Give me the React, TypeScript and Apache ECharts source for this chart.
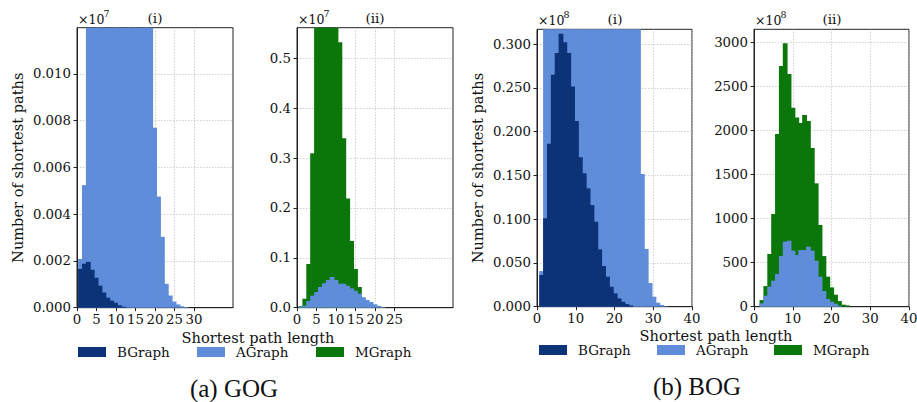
import React, { useEffect, useRef } from "react";
import * as echarts from "echarts";

const SERIF = "DejaVu Serif";
const CAPTION_FONT = "Liberation Serif";

const COLORS: Record<string, string> = {
  BGraph: "#0c3378",
  AGraph: "#5f8dda",
  MGraph: "#0b770b",
};

// ---------- data (bar heights per bin, bins of width 1) ----------
// (a) GOG (i), values in units of 1e7
const GOG_I_BIN_START = 0.4;
const GOG_I_BGRAPH = [0.00166, 0.00188, 0.00196, 0.00162, 0.00128, 0.00094, 0.00065, 0.00043, 0.0003, 0.00021, 0.0001, 0.00004, 0.00001];
const GOG_I_AGRAPH = [
  0.00208, 0.00524, 0.0125, 0.02, 0.03, 0.045, 0.06, 0.075, 0.085, 0.09, 0.088, 0.08, 0.07, 0.058, 0.045, 0.034,
  0.024, 0.016, 0.0125, 0.00769, 0.00475, 0.00303, 0.00102, 0.00052, 0.00026, 0.00014, 0.00006, 0.00003,
];
// (a) GOG (ii), values in units of 1e7
const GOG_II_BIN_START = 0.5;
const GOG_II_MGRAPH = [0.003, 0.018, 0.0876, 0.3095, 0.62, 0.74, 0.8, 0.78, 0.7, 0.6, 0.532, 0.3396, 0.219, 0.1337, 0.0776, 0.0415, 0.018, 0.01, 0.005, 0.002];
const GOG_II_AGRAPH = [0.002, 0.004, 0.0134, 0.024, 0.0315, 0.0415, 0.049, 0.0555, 0.0615, 0.0555, 0.048, 0.048, 0.044, 0.039, 0.034, 0.028, 0.021, 0.0154, 0.0114, 0.0067, 0.0034, 0.0014];
// (b) BOG (i), values in units of 1e8
const BOG_I_BIN_START = 0.69;
const BOG_I_BGRAPH = [0.0362, 0.101, 0.186, 0.2648, 0.2896, 0.3117, 0.302, 0.2896, 0.2514, 0.212, 0.1706, 0.1523, 0.1352, 0.116, 0.097, 0.0655, 0.0465, 0.0343, 0.0228, 0.0152, 0.0095, 0.0057, 0.003, 0.0015];
const BOG_I_AGRAPH = [
  0.0407, 0.36, 0.52, 0.7, 0.88, 1.02, 1.12, 1.18, 1.2, 1.18, 1.12, 1.05, 0.97, 0.9, 0.82, 0.75, 0.68, 0.62, 0.57, 0.52,
  0.48, 0.45, 0.42, 0.39, 0.36, 0.33, 0.1516, 0.066, 0.027, 0.0114, 0.0046, 0.002, 0.0005,
];
// (b) BOG (ii)
const BOG_II_BIN_START = 1.55;
const BOG_II_MGRAPH = [75, 234, 597, 1051, 1958, 2729, 2986, 2638, 2256, 2143, 2083, 2173, 2105, 1799, 1398, 926, 574, 340, 219, 136, 64, 23, 15];
const BOG_II_AGRAPH = [38, 125, 227, 295, 370, 574, 737, 748, 635, 586, 642, 642, 680, 635, 521, 340, 178, 87, 57, 34, 10];

const BIN_WIDTH = 1;

// axis ticks
const X_TICKS_GOG_I = [0, 5, 10, 15, 20, 25, 30];
const X_TICKS_GOG_II = [0, 5, 10, 15, 20, 25];
const X_TICKS_BOG = [0, 10, 20, 30, 40];
const Y_TICKS_GOG_I = [0, 0.002, 0.004, 0.006, 0.008, 0.01];
const Y_TICKS_GOG_II = [0, 0.1, 0.2, 0.3, 0.4, 0.5];
const Y_TICKS_BOG_I = [0, 0.05, 0.1, 0.15, 0.2, 0.25, 0.3];
const Y_TICKS_BOG_II = [0, 500, 1000, 1500, 2000, 2500, 3000];
const Y_MAX = [0.01197, 0.5614, 0.3168, 3144];
const X_MAX = 40;

const LEGEND_NAMES = ["BGraph", "AGraph", "MGraph"];

function histSeries(name: string, heights: number[], start: number, idx: number) {
  const data = heights.map((h, i) => [start + i * BIN_WIDTH, start + (i + 1) * BIN_WIDTH, h]);
  const color = COLORS[name];
  return {
    type: "custom",
    name,
    xAxisIndex: idx,
    yAxisIndex: idx,
    itemStyle: { color },
    encode: { x: [0, 1], y: 2 },
    renderItem: (params: any, api: any) => {
      const a = api.coord([api.value(0), api.value(2)]);
      const b = api.coord([api.value(1), 0]);
      const cs = params.coordSys;
      const shape = echarts.graphic.clipRectByRect(
        { x: a[0] - 0.45, y: a[1], width: b[0] - a[0] + 0.9, height: b[1] - a[1] },
        { x: cs.x, y: cs.y, width: cs.width, height: cs.height }
      );
      if (!shape) return null;
      return {
        type: "rect",
        shape,
        style: { fill: color },
      };
    },
    data,
  };
}

function xAxisCfg(idx: number, ticks: number[]) {
  return {
    type: "value",
    gridIndex: idx,
    min: 0,
    max: X_MAX,
    axisLine: { show: true, onZero: false, lineStyle: { color: "#222", width: 1 } },
    axisTick: { show: true, length: 3.5, customValues: ticks, lineStyle: { color: "#222", width: 1 } },
    axisLabel: { customValues: ticks, color: "#111", fontFamily: SERIF, fontSize: 13.3, margin: 5 },
    splitLine: { show: true, lineStyle: { color: "#c4c4c4", type: [1.5, 1.5], width: 0.8 } },
  };
}

function yAxisCfg(idx: number, ticks: number[], max: number, digits: number, withName: boolean) {
  return {
    type: "value",
    gridIndex: idx,
    min: 0,
    max,
    name: withName ? "Number of shortest paths" : "",
    nameLocation: "middle",
    nameGap: 52,
    nameTextStyle: { fontFamily: SERIF, fontSize: 14.6, color: "#111" },
    axisLine: { show: true, lineStyle: { color: "#222", width: 1 } },
    axisTick: { show: true, length: 3.5, customValues: ticks, lineStyle: { color: "#222", width: 1 } },
    axisLabel: {
      customValues: ticks,
      color: "#111",
      fontFamily: SERIF,
      fontSize: 13.3,
      margin: 6,
      formatter: (v: number) => v.toFixed(digits),
    },
    splitLine: { show: true, lineStyle: { color: "#c4c4c4", type: [1.5, 1.5], width: 0.8 } },
  };
}

const GRIDS = [
  { left: 77, top: 27.7, width: 156, height: 280 },
  { left: 297, top: 27.7, width: 156, height: 280 },
  { left: 537, top: 29.3, width: 155, height: 277.4 },
  { left: 754, top: 29.3, width: 155, height: 277.4 },
];

function legendItem(name: string, left: number, cy: number) {
  return {
    data: [name],
    left,
    top: cy - 8,
    orient: "horizontal",
    padding: 0,
    itemGap: 0,
    itemWidth: 28,
    itemHeight: 10,
    icon: "rect",
    selectedMode: false,
    textStyle: { fontFamily: SERIF, fontSize: 13.5, color: "#111", padding: [0, 0, 0, 6] },
  };
}

function txt(text: string, x: number, y: number, size: number, align = "center", font = SERIF) {
  return {
    type: "text",
    x,
    y,
    style: { text, fontFamily: font, fontSize: size, fill: "#111", textAlign: align, textVerticalAlign: "middle" },
  };
}

export default function App() {
  const ref = useRef<HTMLDivElement>(null);
  useEffect(() => {
    if (!ref.current) return;
    const chart = echarts.init(ref.current, undefined, { renderer: "svg" });
    const option: any = {
      animation: false,
      backgroundColor: "#fff",
      grid: GRIDS.map((g) => ({
        ...g,
        show: true,
        borderColor: "#222",
        borderWidth: 1,
        backgroundColor: "transparent",
        containLabel: false,
        outerBoundsMode: "none",
      })),
      xAxis: [
        xAxisCfg(0, X_TICKS_GOG_I),
        xAxisCfg(1, X_TICKS_GOG_II),
        xAxisCfg(2, X_TICKS_BOG),
        xAxisCfg(3, X_TICKS_BOG),
      ],
      yAxis: [
        yAxisCfg(0, Y_TICKS_GOG_I, Y_MAX[0], 3, true),
        yAxisCfg(1, Y_TICKS_GOG_II, Y_MAX[1], 1, false),
        yAxisCfg(2, Y_TICKS_BOG_I, Y_MAX[2], 3, true),
        yAxisCfg(3, Y_TICKS_BOG_II, Y_MAX[3], 0, false),
      ],
      legend: [
        legendItem(LEGEND_NAMES[0], 78, 353),
        legendItem(LEGEND_NAMES[1], 197, 353),
        legendItem(LEGEND_NAMES[2], 316, 353),
        legendItem(LEGEND_NAMES[0], 539, 351),
        legendItem(LEGEND_NAMES[1], 657, 351),
        legendItem(LEGEND_NAMES[2], 774, 351),
      ],
      series: [
        histSeries("AGraph", GOG_I_AGRAPH, GOG_I_BIN_START, 0),
        histSeries("BGraph", GOG_I_BGRAPH, GOG_I_BIN_START, 0),
        histSeries("MGraph", GOG_II_MGRAPH, GOG_II_BIN_START, 1),
        histSeries("AGraph", GOG_II_AGRAPH, GOG_II_BIN_START, 1),
        histSeries("AGraph", BOG_I_AGRAPH, BOG_I_BIN_START, 2),
        histSeries("BGraph", BOG_I_BGRAPH, BOG_I_BIN_START, 2),
        histSeries("MGraph", BOG_II_MGRAPH, BOG_II_BIN_START, 3),
        histSeries("AGraph", BOG_II_AGRAPH, BOG_II_BIN_START, 3),
      ],
      graphic: [
        txt("×10", 78, 19, 12.5, "left"),
        txt("7", 103.5, 13.5, 9.5, "left"),
        txt("×10", 298, 19, 12.5, "left"),
        txt("7", 323.5, 13.5, 9.5, "left"),
        txt("×10", 538, 20, 12.5, "left"),
        txt("8", 563.5, 14.5, 9.5, "left"),
        txt("×10", 755, 20, 12.5, "left"),
        txt("8", 780.5, 14.5, 9.5, "left"),
        txt("(i)", 155, 17.5, 13.5),
        txt("(ii)", 375, 17.5, 13.5),
        txt("(i)", 615, 19, 13.5),
        txt("(ii)", 832, 19, 13.5),
        txt("Shortest path length", 258, 337, 14.6),
        txt("Shortest path length", 716, 335, 14.6),
        txt("(a) GOG", 234, 388, 25, "center", CAPTION_FONT),
        txt("(b) BOG", 697, 386, 25, "center", CAPTION_FONT),
      ],
    };
    chart.setOption(option);
    return () => chart.dispose();
  }, []);
  return <div ref={ref} style={{ position: "fixed", left: 0, top: 0, width: 917, height: 402, background: "#fff" }} />;
}
